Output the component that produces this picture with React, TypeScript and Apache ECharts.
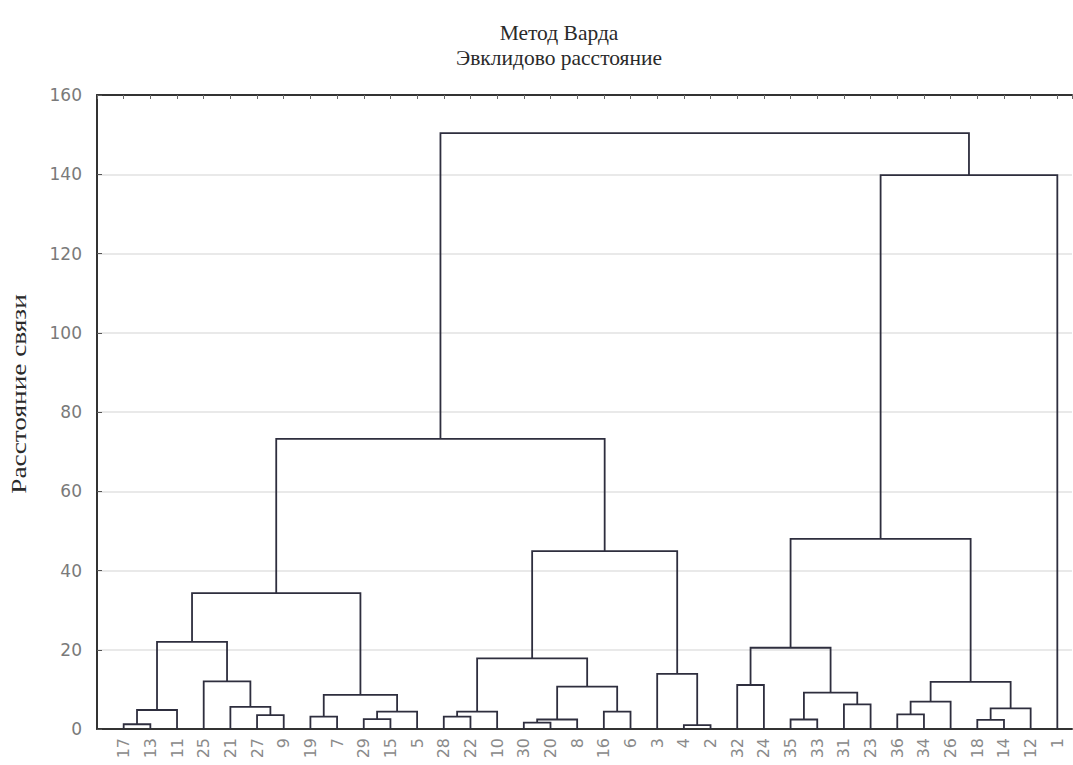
import React, { useEffect, useRef } from "react";
import * as echarts from "echarts";

// Leaves in dendrogram order (left to right)
const leafLabels = [
  "17", "13", "11", "25", "21", "27", "9", "19", "7", "29", "15", "5",
  "28", "22", "10", "30", "20", "8", "16", "6", "3", "4", "2", "32",
  "24", "35", "33", "31", "23", "36", "34", "26", "18", "14", "12", "1",
];

// Merges: node ids 0..35 are leaves (by position), 36+k is the k-th merge
const mergeLeft = [
  0, 36, 5, 4, 3, 37, 7, 9, 43, 42, 41, 12, 47, 15, 49, 18, 50, 48, 21, 20,
  53, 46, 23, 25, 27, 59, 58, 29, 63, 32, 65, 64, 62, 68, 57,
];
const mergeRight = [
  1, 2, 6, 38, 39, 40, 8, 10, 11, 44, 45, 13, 14, 16, 17, 19, 51, 52, 22, 54,
  55, 56, 24, 26, 28, 60, 61, 30, 31, 33, 34, 66, 67, 35, 69,
];
const mergeHeight = [
  1.2, 4.8, 3.5, 5.6, 12.0, 22.0, 3.1, 2.5, 4.4, 8.6, 34.3, 3.1, 4.4, 1.6,
  2.4, 4.4, 10.7, 17.8, 1.0, 13.9, 44.9, 73.2, 11.1, 2.4, 6.2, 9.2, 20.5, 3.7,
  6.9, 2.3, 5.2, 11.9, 48.0, 139.8, 150.4,
];

const yMin = 0;
const yMax = 160;
const yStep = 20;

const titleLine1 = "Метод Варда";
const titleLine2 = "Эвклидово расстояние";
const yAxisName = "Расстояние связи";

function buildLinks() {
  const nodeX: number[] = leafLabels.map((_, i) => i + 1);
  const nodeH: number[] = leafLabels.map(() => 0);
  const links: number[][] = [];
  for (let k = 0; k < mergeHeight.length; k++) {
    const a = mergeLeft[k];
    const b = mergeRight[k];
    const h = mergeHeight[k];
    links.push([nodeX[a], nodeH[a], nodeX[b], nodeH[b], h]);
    nodeX.push((nodeX[a] + nodeX[b]) / 2);
    nodeH.push(h);
  }
  return links;
}

export default function App() {
  const ref = useRef<HTMLDivElement>(null);
  useEffect(() => {
    if (!ref.current) return;
    const chart = echarts.init(ref.current, undefined, { renderer: "svg" });
    const links = buildLinks();
    const xMax = 36.55;
    const lineColor = "#2e2e3e";
    const titleStyle = {
      fontFamily: "Liberation Serif",
      fontSize: 21.5,
      fontWeight: "normal",
      color: "#2a2a2a",
    };
    const option: any = {
      animation: false,
      backgroundColor: "#ffffff",
      title: [
        { text: titleLine1, left: 554, top: 17, textAlign: "center", textStyle: titleStyle },
        { text: titleLine2, left: 554, top: 42, textAlign: "center", textStyle: titleStyle },
      ],
      grid: { left: 97, top: 95, right: 1, bottom: 36, containLabel: false },
      xAxis: [
        {
          type: "value",
          position: "bottom",
          min: 0,
          max: xMax,
          interval: 1,
          axisLine: { show: true, lineStyle: { color: "#333", width: 2 } },
          axisTick: { show: false },
          splitLine: { show: false },
          axisLabel: {
            rotate: 90,
            margin: 9,
            color: "#8a8a8a",
            fontFamily: "DejaVu Sans",
            fontSize: 16,
            showMinLabel: false,
            showMaxLabel: false,
            formatter: (v: number) => {
              const i = Math.round(v) - 1;
              if (Math.abs(v - Math.round(v)) > 1e-6) return "";
              return leafLabels[i] ?? "";
            },
          },
        },
        {
          type: "value",
          position: "top",
          min: 0,
          max: xMax,
          interval: 1,
          axisLine: { show: true, lineStyle: { color: "#333", width: 2 } },
          axisTick: { show: true, inside: true, length: 4, lineStyle: { color: "#666" } },
          splitLine: { show: false },
          axisLabel: { show: false },
        },
      ],
      yAxis: {
        type: "value",
        min: yMin,
        max: yMax,
        interval: yStep,
        axisLine: { show: true, lineStyle: { color: "#333", width: 2 } },
        axisTick: { show: true, inside: true, length: 5, lineStyle: { color: "#555" } },
        splitLine: { show: true, lineStyle: { color: "#e2e2e2", width: 1.5 } },
        axisLabel: {
          color: "#7a7a7a",
          fontFamily: "DejaVu Sans",
          fontSize: 17,
          margin: 15,
        },
      },
      graphic: [
        {
          type: "text",
          x: 19,
          y: 394,
          rotation: Math.PI / 2,
          scaleX: 1.3,
          style: {
            text: yAxisName,
            fontFamily: "Liberation Serif",
            fontSize: 21,
            fill: "#2a2a2a",
            textAlign: "center",
            textVerticalAlign: "middle",
          },
        },
      ],
      series: [
        {
          type: "custom",
          xAxisIndex: 0,
          yAxisIndex: 0,
          clip: false,
          encode: { x: [0, 2], y: [1, 3, 4] },
          data: links,
          renderItem: (params: any, api: any) => {
            const xa = api.value(0);
            const ha = api.value(1);
            const xb = api.value(2);
            const hb = api.value(3);
            const h = api.value(4);
            const p1 = api.coord([xa, ha]);
            const p2 = api.coord([xa, h]);
            const p3 = api.coord([xb, h]);
            const p4 = api.coord([xb, hb]);
            return {
              type: "polyline",
              shape: { points: [p1, p2, p3, p4] },
              style: { stroke: lineColor, lineWidth: 1.8, fill: "none" },
            };
          },
        },
      ],
    };
    chart.setOption(option);
    return () => chart.dispose();
  }, []);
  return (
    <div
      ref={ref}
      style={{ position: "fixed", left: 0, top: 0, width: 1073, height: 765 }}
    />
  );
}
